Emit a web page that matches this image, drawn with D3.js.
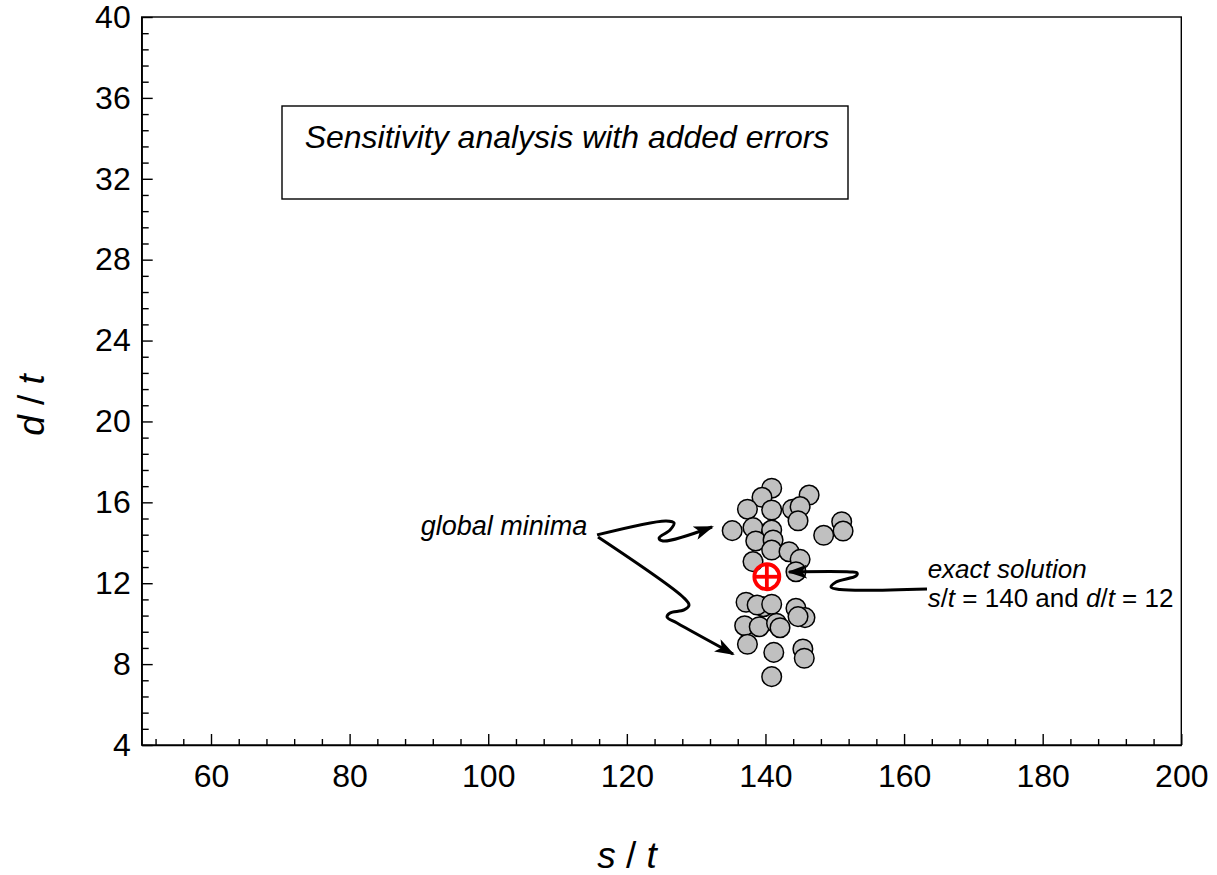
<!DOCTYPE html>
<html><head><meta charset="utf-8">
<script src="https://cdn.jsdelivr.net/npm/d3@7"></script>
<style>
body{margin:0;background:#fff}
text{font-family:"Liberation Sans",Arial,sans-serif;fill:#000}
</style>
</head><body>
<svg id="c" width="1217" height="875"></svg>
<script>
// ---- data ----
const sValues = [140.9,139.5,146.3,137.4,140.9,143.9,145.0,144.7,135.2,138.2,140.9,148.4,151.0,151.2,138.6,141.1,140.9,143.4,145.0,138.2,144.4,
                 137.2,139.7,138.8,140.9,144.4,145.7,144.7,137.0,139.1,141.6,142.1,137.4,141.2,145.4,145.6,140.9];
const dValues = [16.70,16.25,16.36,15.66,15.62,15.66,15.79,15.09,14.60,14.75,14.63,14.37,15.04,14.58,14.09,14.14,13.64,13.56,13.18,13.07,12.57,
                 11.06,10.84,10.92,10.96,10.76,10.30,10.35,9.90,9.85,10.02,9.80,8.98,8.58,8.75,8.29,7.38];
const exactS = [140.2];
const exactD = [12.32];
const xTickValues = [60,80,100,120,140,160,180,200];
const yTickValues = [4,8,12,16,20,24,28,32,36,40];
const xDomain = [50,200];
const yDomain = [4,40];
// annotation arrows (data units)
const arrowMinimaUp   = [[115.70,14.39],[125.66,15.08],[126.81,14.98],[126.23,14.63],[124.65,14.24],[125.22,14.09],[132.29,14.78]];
const arrowMinimaDown = [[115.84,14.29],[128.10,11.32],[128.97,10.92],[128.25,10.68],[126.23,10.53],[125.80,10.33],[127.24,10.03],[135.32,8.50]];
const arrowExact      = [[163.31,11.72],[150.76,11.69],[149.46,11.81],[150.19,12.06],[153.07,12.36],[153.22,12.51],[152.21,12.56],[143.41,12.56]];

// ---- layout ----
const svg = d3.select("#c");
const L = 141.7, R = 1181.3, T = 17, B = 745;
const x = d3.scaleLinear().domain(xDomain).range([L,R]);
const y = d3.scaleLinear().domain(yDomain).range([B,T]);
const FONT = "Liberation Sans, Arial, sans-serif";

// frame
svg.append("rect").attr("x",L).attr("y",T).attr("width",R-L).attr("height",B-T)
  .attr("fill","none").attr("stroke","#000").attr("stroke-width",1.4);

// minor ticks
const xMinor = d3.range(52,200,4).filter(v=>v%20!==0);
const yMinor = d3.range(4,40.001,0.8).map(v=>+v.toFixed(2)).filter(v=>Math.abs(v/4-Math.round(v/4))>1e-6);
svg.append("g").attr("transform",`translate(0,${B})`)
  .call(d3.axisBottom(x).tickValues(xMinor).tickSize(-6).tickFormat(""))
  .call(g=>{g.select(".domain").remove(); g.selectAll("line").attr("stroke-width",1.4);});
svg.append("g").attr("transform",`translate(${L},0)`)
  .call(d3.axisLeft(y).tickValues(yMinor).tickSize(-7).tickFormat(""))
  .call(g=>{g.select(".domain").remove(); g.selectAll("line").attr("stroke-width",1.4);});

// major axes
svg.append("g").attr("transform",`translate(0,${B})`)
  .call(d3.axisBottom(x).tickValues(xTickValues).tickSize(-11).tickPadding(19).tickSizeOuter(0))
  .call(g=>{g.select(".domain").attr("stroke-width",1.4); g.selectAll("line").attr("stroke-width",1.4);
    g.selectAll("text").style("font-size","32px").style("font-family",FONT);});
svg.append("g").attr("transform",`translate(${L},0)`)
  .call(d3.axisLeft(y).tickValues(yTickValues).tickSize(-11).tickPadding(11).tickSizeOuter(0))
  .call(g=>{g.select(".domain").attr("stroke-width",1.4); g.selectAll("line").attr("stroke-width",1.4);
    g.selectAll("text").style("font-size","32px").style("font-family",FONT);});

// axis titles
const xt = svg.append("text").attr("x",627).attr("y",868).attr("text-anchor","middle").style("font-size","37px");
xt.append("tspan").style("font-style","italic").text("s");
xt.append("tspan").text(" / ");
xt.append("tspan").style("font-style","italic").text("t");
const yt = svg.append("text").attr("transform","translate(44,405) rotate(-90)").attr("text-anchor","middle").style("font-size","37px");
yt.append("tspan").style("font-style","italic").text("d");
yt.append("tspan").text(" / ");
yt.append("tspan").style("font-style","italic").text("t");

// title box
svg.append("rect").attr("x",282).attr("y",106).attr("width",566).attr("height",93)
  .attr("fill","none").attr("stroke","#000").attr("stroke-width",1.4);
svg.append("text").attr("x",567).attr("y",148).attr("text-anchor","middle")
  .style("font-size","32px").style("font-style","italic").text("Sensitivity analysis with added errors");

// points
svg.append("g").selectAll("circle").data(sValues.map((s,i)=>[s,dValues[i]])).join("circle")
  .attr("cx",d=>x(d[0])).attr("cy",d=>y(d[1])).attr("r",9.8)
  .attr("fill","#c0c0c0").attr("stroke","#000").attr("stroke-width",1.5);

// exact solution marker
const ex = svg.append("g").selectAll("g").data(exactS.map((s,i)=>[s,exactD[i]])).join("g")
  .attr("transform",d=>`translate(${x(d[0])},${y(d[1])})`);
ex.append("circle").attr("r",12.5).attr("fill","none").attr("stroke","#f00").attr("stroke-width",3.8);
ex.append("line").attr("x1",-12.5).attr("x2",12.5).attr("stroke","#f00").attr("stroke-width",3.8);
ex.append("line").attr("y1",-12.5).attr("y2",12.5).attr("stroke","#f00").attr("stroke-width",3.8);

// arrows
const defs = svg.append("defs");
defs.append("marker").attr("id","ah").attr("viewBox","0 0 20 14").attr("refX",18).attr("refY",7)
  .attr("markerWidth",20).attr("markerHeight",14).attr("markerUnits","userSpaceOnUse").attr("orient","auto")
  .append("path").attr("d","M0,0 L20,7 L0,14 L5,7 Z").attr("fill","#000");
const line = d3.line().x(d=>x(d[0])).y(d=>y(d[1])).curve(d3.curveCatmullRom.alpha(0.5));
[arrowMinimaUp, arrowMinimaDown, arrowExact].forEach(a=>{
  svg.append("path").attr("d",line(a)).attr("fill","none").attr("stroke","#000")
    .attr("stroke-width",3).attr("stroke-linejoin","round").attr("marker-end","url(#ah)");
});

// annotation texts
svg.append("text").attr("x",x(114.3)).attr("y",y(14.39)).attr("text-anchor","end")
  .style("font-size","27px").style("font-style","italic").text("global minima");
svg.append("text").attr("x",x(163.4)).attr("y",y(12.32)+1).style("font-size","26px").style("font-style","italic").text("exact solution");
const es = svg.append("text").attr("x",x(163.4)).attr("y",y(12.32)+30).style("font-size","26px");
es.append("tspan").style("font-style","italic").text("s");
es.append("tspan").text("/");
es.append("tspan").style("font-style","italic").text("t");
es.append("tspan").text(" = 140 and ");
es.append("tspan").style("font-style","italic").text("d");
es.append("tspan").text("/");
es.append("tspan").style("font-style","italic").text("t");
es.append("tspan").text(" = 12");
</script>
</body></html>
